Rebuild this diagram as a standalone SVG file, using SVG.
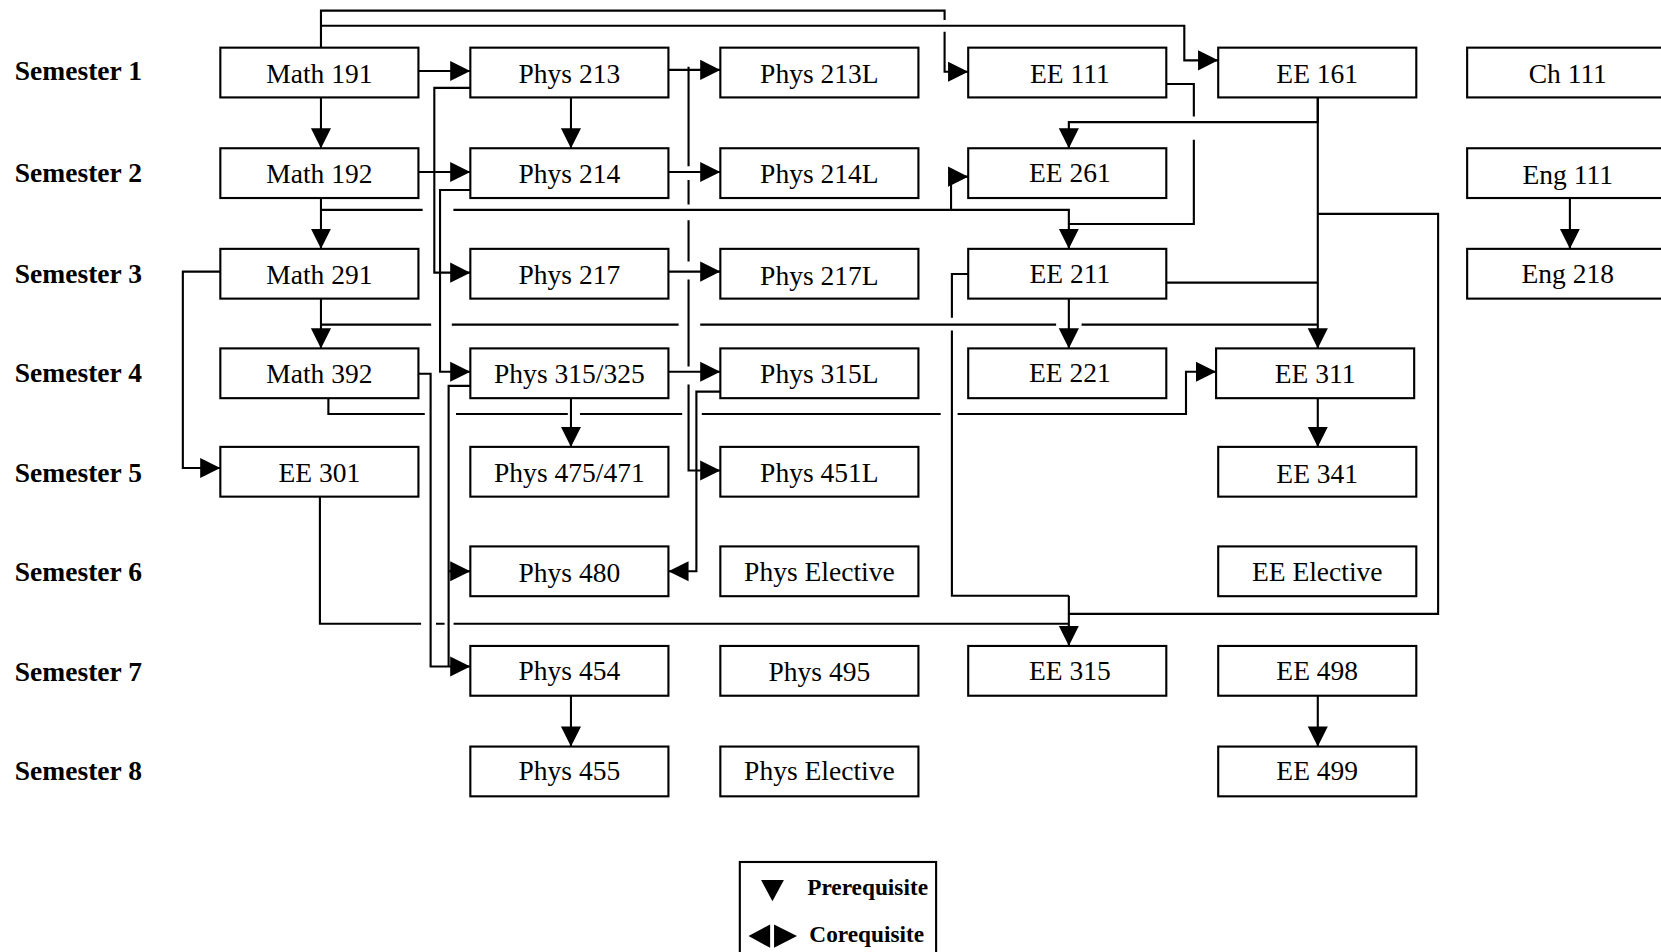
<svg xmlns="http://www.w3.org/2000/svg" width="1661" height="952" viewBox="0 0 1661 952">
<defs>
<style>
.box{fill:#fff;stroke:#000;stroke-width:2}
.t{font-family:"Liberation Serif","Times New Roman",serif;font-size:26px;text-anchor:middle;fill:#000}
.sem{font-family:"Liberation Serif","Times New Roman",serif;font-size:26px;font-weight:bold;fill:#000}
.leg{font-family:"Liberation Serif","Times New Roman",serif;font-size:22px;font-weight:bold;fill:#000}
.c path{fill:none;stroke:#000;stroke-width:2}
.c path.a{marker-end:url(#ah)}
</style>
<marker id="ah" markerUnits="userSpaceOnUse" markerWidth="20" markerHeight="20" viewBox="0 0 20 20" refX="19" refY="10" orient="auto">
<path d="M0,0.5 L19,10 L0,19.5 z" fill="#000"/>
</marker>
</defs>
<rect x="0" y="0" width="1661" height="952" fill="#fff"/>
<g transform="scale(1.05931,1.05895)">
<g id="semesters">
<text class="sem" x="14" y="76">Semester 1</text>
<text class="sem" x="14" y="172">Semester 2</text>
<text class="sem" x="14" y="267">Semester 3</text>
<text class="sem" x="14" y="361">Semester 4</text>
<text class="sem" x="14" y="455">Semester 5</text>
<text class="sem" x="14" y="549">Semester 6</text>
<text class="sem" x="14" y="643">Semester 7</text>
<text class="sem" x="14" y="737">Semester 8</text>
</g>
<g class="c" id="connectors">
<path class="a" d="M303,45 V10 H891.7 V19 M891.7,30 V67.7 H914"/>
<path class="a" d="M303,24.3 H1118 V57 H1150"/>
<path class="a" d="M395,67 H444"/>
<path class="a" d="M303,92 V140"/>
<path class="a" d="M631,66 H680"/>
<path class="a" d="M650,63 V157 M650,170 V193 M650,208 V247 M650,264 V346 M650,363 V444.3 H680"/>
<path class="a" d="M539,92 V140"/>
<path class="a" d="M444,83 H410 V257.5 H444"/>
<path class="a" d="M395,162.4 H444"/>
<path class="a" d="M631,162.4 H680"/>
<path class="a" d="M444,179.4 H415.4 V351 H444"/>
<path class="a" d="M303,187 V235"/>
<path class="a" d="M303,198.2 H399 M428,198.2 H1009 V235"/>
<path class="a" d="M897.8,198.2 V166.8 H914"/>
<path d="M1101,79.3 H1127 V110 M1127,132 V211.5 H1009"/>
<path class="a" d="M1244,92 V115.3 H1009 V140"/>
<path class="a" d="M1244,92 V329"/>
<path d="M1244,202 H1357.6 V579.7 H1009"/>
<path d="M1101,266.9 H1244"/>
<path class="a" d="M1009,282 V329"/>
<path class="a" d="M303,282 V329"/>
<path d="M303,306.5 H407 M426.5,306.5 H640.6 M661,306.5 H997 M1021,306.5 H1244"/>
<path class="a" d="M208,256.5 H172.6 V442 H208"/>
<path class="a" d="M395,353 H406.5 V629.4 H444"/>
<path d="M444,364.4 H423.5 V629.4"/>
<path class="a" d="M423.5,539.5 H444"/>
<path class="a" d="M310,376 V391 H401 M430.5,391 H536 M547.5,391 H644 M662.5,391 H888 M904,391 H1119.6 V351 H1148"/>
<path class="a" d="M539,376 V422"/>
<path class="a" d="M631,351 H680"/>
<path class="a" d="M680,369.8 H657.4 V539.5 H631"/>
<path d="M914,258.7 H898.6 V300 M898.6,312 V562.6 H1009"/>
<path d="M302,469 V589 H397.5 M411.6,589 H419.7 M428.2,589 H1009"/>
<path class="a" d="M1009,562.6 V610"/>
<path class="a" d="M1244,376 V422"/>
<path class="a" d="M539,657 V705"/>
<path class="a" d="M1244,657 V705"/>
<path class="a" d="M1482,187 V235"/>
<path class="a" d="M631,256.5 H680"/>
</g>
<g id="n-math191"><rect class="box" x="208" y="45" width="187" height="47"/><text class="t" x="301.5" y="78">Math 191</text></g>
<g id="n-phys213"><rect class="box" x="444" y="45" width="187" height="47"/><text class="t" x="537.5" y="78">Phys 213</text></g>
<g id="n-phys213l"><rect class="box" x="680" y="45" width="187" height="47"/><text class="t" x="773.5" y="78">Phys 213L</text></g>
<g id="n-ee111"><rect class="box" x="914" y="45" width="187" height="47"/><text class="t" x="1010" y="78">EE 111</text></g>
<g id="n-ee161"><rect class="box" x="1150" y="45" width="187" height="47"/><text class="t" x="1243.5" y="78">EE 161</text></g>
<g id="n-ch111"><rect class="box" x="1385" y="45" width="187" height="47"/><text class="t" x="1480" y="78">Ch 111</text></g>
<g id="n-math192"><rect class="box" x="208" y="140" width="187" height="47"/><text class="t" x="301.5" y="173">Math 192</text></g>
<g id="n-phys214"><rect class="box" x="444" y="140" width="187" height="47"/><text class="t" x="537.5" y="173">Phys 214</text></g>
<g id="n-phys214l"><rect class="box" x="680" y="140" width="187" height="47"/><text class="t" x="773.5" y="173">Phys 214L</text></g>
<g id="n-ee261"><rect class="box" x="914" y="140" width="187" height="47"/><text class="t" x="1010" y="172">EE 261</text></g>
<g id="n-eng111"><rect class="box" x="1385" y="140" width="187" height="47"/><text class="t" x="1480" y="174">Eng 111</text></g>
<g id="n-math291"><rect class="box" x="208" y="235" width="187" height="47"/><text class="t" x="301.5" y="268">Math 291</text></g>
<g id="n-phys217"><rect class="box" x="444" y="235" width="187" height="47"/><text class="t" x="537.5" y="268">Phys 217</text></g>
<g id="n-phys217l"><rect class="box" x="680" y="235" width="187" height="47"/><text class="t" x="773.5" y="269">Phys 217L</text></g>
<g id="n-ee211"><rect class="box" x="914" y="235" width="187" height="47"/><text class="t" x="1010" y="267">EE 211</text></g>
<g id="n-eng218"><rect class="box" x="1385" y="235" width="187" height="47"/><text class="t" x="1480" y="267">Eng 218</text></g>
<g id="n-math392"><rect class="box" x="208" y="329" width="187" height="47"/><text class="t" x="301.5" y="362">Math 392</text></g>
<g id="n-phys315"><rect class="box" x="444" y="329" width="187" height="47"/><text class="t" x="537.5" y="362">Phys 315/325</text></g>
<g id="n-phys315l"><rect class="box" x="680" y="329" width="187" height="47"/><text class="t" x="773.5" y="362">Phys 315L</text></g>
<g id="n-ee221"><rect class="box" x="914" y="329" width="187" height="47"/><text class="t" x="1010" y="361">EE 221</text></g>
<g id="n-ee311"><rect class="box" x="1148" y="329" width="187" height="47"/><text class="t" x="1241.5" y="362">EE 311</text></g>
<g id="n-ee301"><rect class="box" x="208" y="422" width="187" height="47"/><text class="t" x="301.5" y="455">EE 301</text></g>
<g id="n-phys475"><rect class="box" x="444" y="422" width="187" height="47"/><text class="t" x="537.5" y="455">Phys 475/471</text></g>
<g id="n-phys451l"><rect class="box" x="680" y="422" width="187" height="47"/><text class="t" x="773.5" y="455">Phys 451L</text></g>
<g id="n-ee341"><rect class="box" x="1150" y="422" width="187" height="47"/><text class="t" x="1243.5" y="456">EE 341</text></g>
<g id="n-phys480"><rect class="box" x="444" y="516" width="187" height="47"/><text class="t" x="537.5" y="550">Phys 480</text></g>
<g id="n-physel6"><rect class="box" x="680" y="516" width="187" height="47"/><text class="t" x="773.5" y="549">Phys Elective</text></g>
<g id="n-eeel"><rect class="box" x="1150" y="516" width="187" height="47"/><text class="t" x="1243.5" y="549">EE Elective</text></g>
<g id="n-phys454"><rect class="box" x="444" y="610" width="187" height="47"/><text class="t" x="537.5" y="642">Phys 454</text></g>
<g id="n-phys495"><rect class="box" x="680" y="610" width="187" height="47"/><text class="t" x="773.5" y="643">Phys 495</text></g>
<g id="n-ee315"><rect class="box" x="914" y="610" width="187" height="47"/><text class="t" x="1010" y="642">EE 315</text></g>
<g id="n-ee498"><rect class="box" x="1150" y="610" width="187" height="47"/><text class="t" x="1243.5" y="642">EE 498</text></g>
<g id="n-phys455"><rect class="box" x="444" y="705" width="187" height="47"/><text class="t" x="537.5" y="737">Phys 455</text></g>
<g id="n-physel8"><rect class="box" x="680" y="705" width="187" height="47"/><text class="t" x="773.5" y="737">Phys Elective</text></g>
<g id="n-ee499"><rect class="box" x="1150" y="705" width="187" height="47"/><text class="t" x="1243.5" y="737">EE 499</text></g>
<g id="legend">
<rect class="box" x="698.4" y="814" width="185.3" height="110"/>
<polygon points="718.5,831 740,831 729.2,851" fill="#000"/>
<text class="leg" x="762" y="845">Prerequisite</text>
<polygon points="727,873 727,895 706.6,884" fill="#000"/>
<polygon points="730.7,873 730.7,895 752.4,884" fill="#000"/>
<text class="leg" x="764" y="890">Corequisite</text>
</g>
</g>
</svg>
